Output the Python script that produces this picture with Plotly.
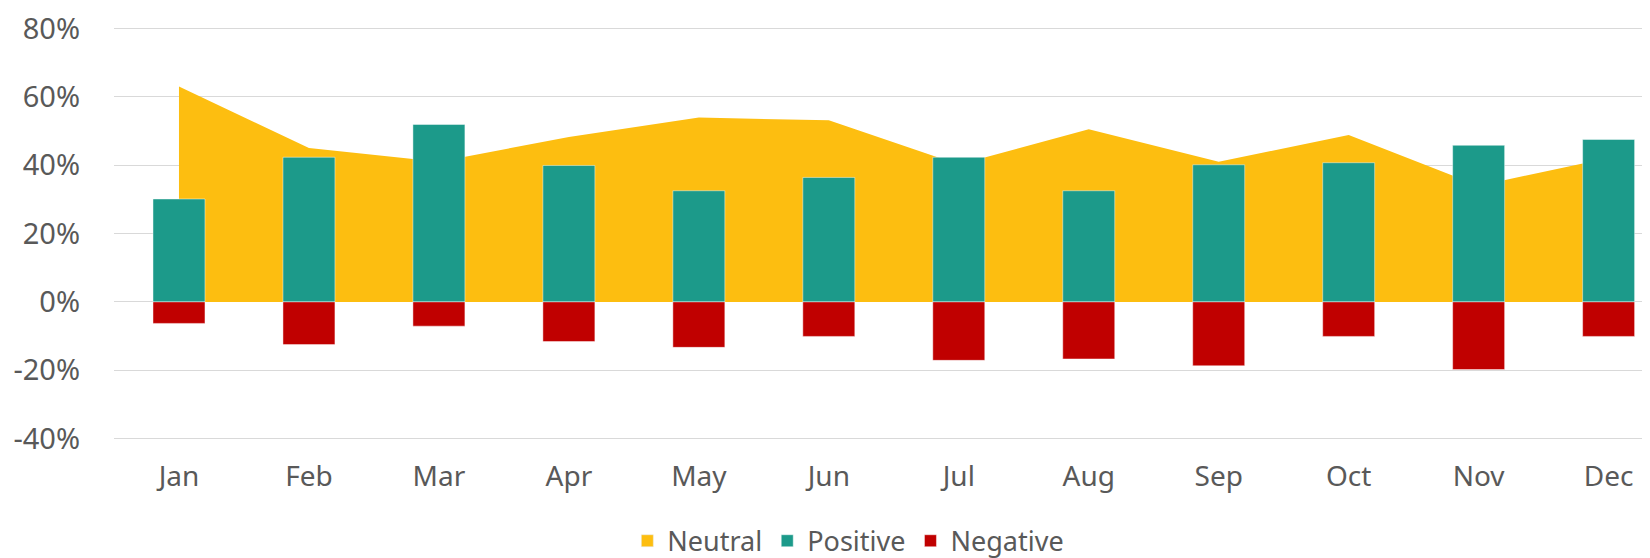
import plotly.graph_objects as go

months = ["Jan", "Feb", "Mar", "Apr", "May", "Jun", "Jul", "Aug", "Sep", "Oct", "Nov", "Dec"]
neutral = [63.0, 45.0, 41.0, 48.2, 53.9, 53.1, 40.2, 50.5, 41.0, 48.8, 34.0, 42.1]
positive = [30.1, 42.3, 51.9, 39.9, 32.5, 36.4, 42.3, 32.5, 40.1, 40.7, 45.8, 47.5]
negative = [-6.3, -12.5, -7.1, -11.6, -13.3, -10.1, -17.1, -16.7, -18.7, -10.1, -19.8, -10.1]

y_ticks = [-40, -20, 0, 20, 40, 60, 80]
y_ticktext = [f"{v}%" for v in y_ticks]

YELLOW = "#FDBE10"
TEAL = "#1C9A8A"
RED = "#C00000"
GREY_TXT = "#595959"
FONT = "Noto Sans"

xi = list(range(len(months)))

fig = go.Figure()
fig.add_trace(go.Scatter(
    x=xi, y=neutral, name="Neutral", mode="none",
    fill="tozeroy", fillcolor=YELLOW, showlegend=False, legendgroup="neutral",
    xaxis="x", yaxis="y",
))
# legend entry for the area (square swatch like the reference)
fig.add_trace(go.Bar(
    x=[None], y=[None], name="Neutral", marker=dict(color=YELLOW),
    legendgroup="neutral", xaxis="x2", yaxis="y2", hoverinfo="skip",
))
fig.add_trace(go.Bar(
    x=xi, y=positive, name="Positive", marker=dict(color=TEAL, line=dict(width=1, color="rgba(255,255,255,0.45)")),
    width=0.4, xaxis="x2", yaxis="y2",
))
fig.add_trace(go.Bar(
    x=xi, y=negative, name="Negative", marker=dict(color=RED, line=dict(width=1, color="rgba(255,255,255,0.45)")),
    width=0.4, xaxis="x2", yaxis="y2",
))

xr = [-0.5, 11.38]
yr = [-40.4, 80.4]

fig.update_layout(
    width=1650, height=558,
    margin=dict(l=105.5, r=0, t=19.3, b=121.3),
    paper_bgcolor="white", plot_bgcolor="white",
    barmode="relative",
    font=dict(family=FONT, size=29, color=GREY_TXT),
    xaxis=dict(range=xr, tickmode="array", tickvals=xi, ticktext=months,
               showgrid=False, zeroline=False, showline=False, ticks="",
               ticklabelstandoff=17, tickfont=dict(size=28, color=GREY_TXT, family=FONT)),
    yaxis=dict(range=yr, tickmode="array", tickvals=y_ticks, ticktext=y_ticktext,
               showgrid=True, gridcolor="#D9D9D9", gridwidth=1.3,
               zeroline=True, zerolinecolor="#D9D9D9", zerolinewidth=1.3,
               showline=False, ticks="", ticklabelstandoff=33,
               ticklabeloverflow="allow",
               tickfont=dict(size=29, color=GREY_TXT, family=FONT)),
    xaxis2=dict(range=xr, overlaying="x", visible=False),
    yaxis2=dict(range=yr, overlaying="y", visible=False),
    legend=dict(orientation="h", x=0.4756, xanchor="center", y=-0.245, yanchor="middle",
                font=dict(size=27, color=GREY_TXT, family=FONT), itemwidth=30,
                traceorder="normal"),
    showlegend=True,
)

fig.write_html("out.html")
